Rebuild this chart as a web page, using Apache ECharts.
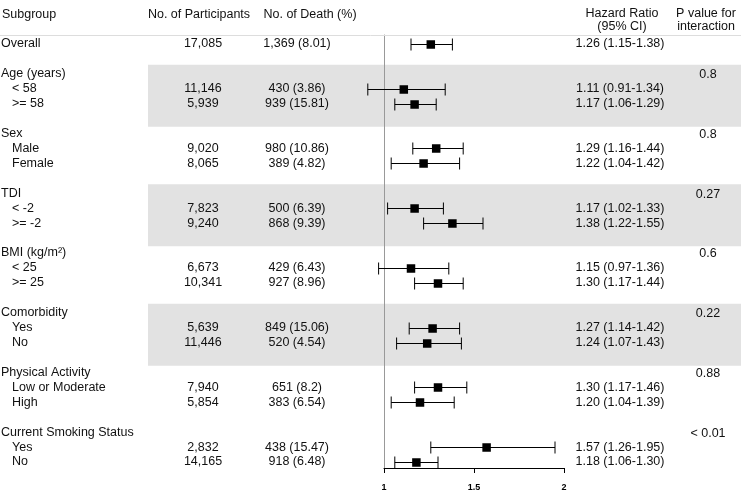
<!DOCTYPE html>
<html><head><meta charset="utf-8">
<script src="https://cdn.jsdelivr.net/npm/echarts@6/dist/echarts.min.js"></script>
<style>html,body{margin:0;padding:0;background:#fff}#c{width:741px;height:491px}</style>
</head><body><div id="c"></div>
<script>
const rowLabels = ['Overall',
  'Age (years)', '< 58', '>= 58',
  'Sex', 'Male', 'Female',
  'TDI', '< -2', '>= -2',
  'BMI (kg/m\u00b2)', '< 25', '>= 25',
  'Comorbidity', 'Yes', 'No',
  'Physical Activity', 'Low or Moderate', 'High',
  'Current Smoking Status', 'Yes', 'No'];
const participants = ['17,085', '', '11,146', '5,939', '', '9,020', '8,065', '', '7,823', '9,240',
  '', '6,673', '10,341', '', '5,639', '11,446', '', '7,940', '5,854', '', '2,832', '14,165'];
const deaths = ['1,369 (8.01)', '', '430 (3.86)', '939 (15.81)', '', '980 (10.86)', '389 (4.82)',
  '', '500 (6.39)', '868 (9.39)', '', '429 (6.43)', '927 (8.96)', '', '849 (15.06)', '520 (4.54)',
  '', '651 (8.2)', '383 (6.54)', '', '438 (15.47)', '918 (6.48)'];
const hr = [1.26, null, 1.11, 1.17, null, 1.29, 1.22, null, 1.17, 1.38, null, 1.15, 1.30,
  null, 1.27, 1.24, null, 1.30, 1.20, null, 1.57, 1.18];
const hrLower = [1.15, null, 0.91, 1.06, null, 1.16, 1.04, null, 1.02, 1.22, null, 0.97, 1.17,
  null, 1.14, 1.07, null, 1.17, 1.04, null, 1.26, 1.06];
const hrUpper = [1.38, null, 1.34, 1.29, null, 1.44, 1.42, null, 1.33, 1.55, null, 1.36, 1.44,
  null, 1.42, 1.43, null, 1.46, 1.39, null, 1.95, 1.30];
const pValues = ['', '0.8', '', '', '0.8', '', '', '0.27', '', '', '0.6', '', '',
  '0.22', '', '', '0.88', '', '', '< 0.01', '', ''];
const shadedGroups = ['Age (years)', 'TDI', 'Comorbidity'];
const xMin = 1, xMax = 2, xStep = 0.5;

const FONT = "'Liberation Sans', Arial, Helvetica, sans-serif";
const TXT = '#111';

function rowPos(i) {
  if (i === 0) return 0;
  const g = Math.floor((i - 1) / 3), k = (i - 1) % 3;
  return 2 + 4 * g + k;
}
function isHeader(i) { return i > 0 && (i - 1) % 3 === 0; }
function fmt(v) { return v.toFixed(2); }

const textData = rowLabels.map((l, i) => [xMin, rowPos(i), i]);
const forestData = [];
hr.forEach((h, i) => { if (h != null) forestData.push([h, hrLower[i], hrUpper[i], rowPos(i), i]); });
const bandData = shadedGroups.map(g => [xMin, rowPos(rowLabels.indexOf(g))]);

const chart = echarts.init(document.getElementById('c'), null, {renderer: 'canvas'});

function txt(x, y, s, align) {
  return {type: 'text', style: {x: x, y: y, text: s, fill: TXT, font: '12.5px ' + FONT,
    textAlign: align, textVerticalAlign: 'middle'}};
}

chart.setOption({
  animation: false,
  backgroundColor: '#fff',
  grid: {left: 384, width: 180, top: 35, height: 433, containLabel: false, outerBoundsMode: 'none'},
  xAxis: {type: 'value', min: xMin, max: xMax, interval: xStep,
    axisLine: {show: true, onZero: false, lineStyle: {color: '#000', width: 1}},
    axisTick: {show: true, length: 5, lineStyle: {color: '#000'}},
    axisLabel: {fontSize: 9, fontWeight: 'bold', color: '#000', margin: 15, fontFamily: FONT},
    splitLine: {show: false}},
  yAxis: {type: 'value', inverse: true, min: -0.6, max: 28.4,
    axisLine: {show: true, onZero: false, lineStyle: {color: '#999', width: 1}},
    axisTick: {show: false}, axisLabel: {show: false}, splitLine: {show: false}},
  graphic: [
    {type: 'line', shape: {x1: 0, y1: 35.5, x2: 741, y2: 35.5}, style: {stroke: '#ddd', lineWidth: 1}, z: 10},
    txt(2, 15, 'Subgroup', 'left'),
    txt(199, 15, 'No. of Participants', 'center'),
    txt(310, 15, 'No. of Death (%)', 'center'),
    txt(622, 14, 'Hazard Ratio', 'center'),
    txt(622, 27, '(95% CI)', 'center'),
    txt(706, 14, 'P value for', 'center'),
    txt(706, 27, 'interaction', 'center')
  ].map(g => Object.assign({z: 10}, g)),
  series: [
    {
      type: 'custom', z: -5, silent: true, clip: false,
      encode: {x: 0, y: 1},
      data: bandData,
      renderItem: function (params, api) {
        const v = api.value(1);
        const top = api.coord([xMin, v - 0.6])[1];
        const bot = api.coord([xMin, v + 3.55])[1];
        return {type: 'rect', shape: {x: 148, y: top, width: 741 - 148, height: bot - top},
          style: {fill: '#e2e2e2'}};
      }
    },
    {
      type: 'custom', silent: true, clip: false,
      encode: {x: 0, y: 1},
      data: textData,
      renderItem: function (params, api) {
        const v = api.value(1), i = api.value(2);
        const y = api.coord([xMin, v])[1];
        const children = [];
        const indent = (i === 0 || isHeader(i)) ? 1 : 12;
        children.push(txt(indent, y, rowLabels[i], 'left'));
        if (participants[i]) children.push(txt(203, y, participants[i], 'center'));
        if (deaths[i]) children.push(txt(297, y, deaths[i], 'center'));
        if (hr[i] != null) children.push(txt(620, y, fmt(hr[i]) + ' (' + fmt(hrLower[i]) + '-' + fmt(hrUpper[i]) + ')', 'center'));
        if (pValues[i]) children.push(txt(708, y + 1, pValues[i], 'center'));
        return {type: 'group', children: children};
      }
    },
    {
      type: 'custom', silent: true, clip: false,
      encode: {x: 0, y: 3},
      data: forestData,
      renderItem: function (params, api) {
        const v = api.value(3);
        const c = api.coord([api.value(0), v]);
        const lo = api.coord([api.value(1), v]);
        const hi = api.coord([api.value(2), v]);
        const y = Math.round(c[1]) + 0.5;
        const ls = {stroke: '#000', lineWidth: 1};
        const cap = 6, sq = 8.5;
        return {type: 'group', children: [
          {type: 'line', shape: {x1: lo[0], y1: y, x2: hi[0], y2: y}, style: ls},
          {type: 'line', shape: {x1: lo[0], y1: y - cap, x2: lo[0], y2: y + cap}, style: ls},
          {type: 'line', shape: {x1: hi[0], y1: y - cap, x2: hi[0], y2: y + cap}, style: ls},
          {type: 'rect', shape: {x: c[0] - sq / 2, y: y - sq / 2, width: sq, height: sq}, style: {fill: '#000'}}
        ]};
      }
    }
  ]
});
</script>
</body></html>
